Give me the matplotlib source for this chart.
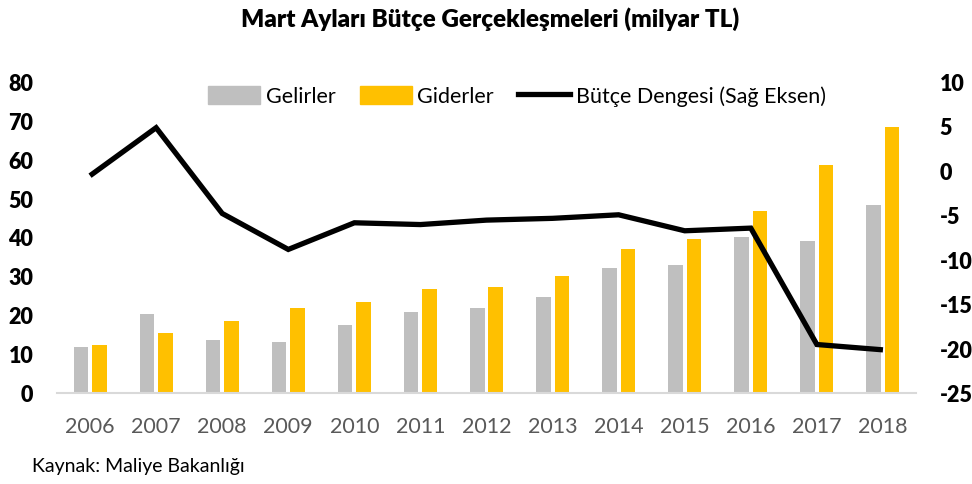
import numpy as np
import matplotlib.pyplot as plt
from matplotlib.patches import Patch
from matplotlib.lines import Line2D

# veriler (milyar TL)
yillar = ['2006', '2007', '2008', '2009', '2010', '2011', '2012',
          '2013', '2014', '2015', '2016', '2017', '2018']
gelirler = [11.8, 20.3, 13.6, 12.9, 17.4, 20.6, 21.7, 24.6, 31.9, 32.8, 40.1, 38.9, 48.2]
giderler = [12.3, 15.4, 18.5, 21.7, 23.2, 26.7, 27.2, 30.0, 37.0, 39.6, 46.7, 58.5, 68.4]
denge = [-0.6, 4.8, -4.85, -8.9, -5.9, -6.1, -5.6, -5.4, -5.0, -6.8, -6.5, -19.6, -20.2]

plt.rcParams['font.family'] = ['Lato', 'DejaVu Sans']
plt.rcParams['axes.unicode_minus'] = False

fig = plt.figure(figsize=(9.72, 4.85), dpi=100)
ax = fig.add_axes([57/972, (485-393.5)/485, (916-57)/972, (393.5-82.5)/485])
x = np.arange(len(yillar))

ax.bar(x - 0.14, gelirler, width=0.22, color='#BFBFBF', zorder=2)
ax.bar(x + 0.14, giderler, width=0.22, color='#FFC000', zorder=2)
ax.set_xlim(-0.5, 12.5)
ax.set_ylim(0, 80)
ax.set_yticks(range(0, 81, 10))
ax.set_xticks(x)
ax.set_xticklabels(yillar, fontsize=15.5, color='#595959')
for s in ['top', 'right', 'left']:
    ax.spines[s].set_visible(False)
ax.spines['bottom'].set_color('#D9D9D9')
ax.spines['bottom'].set_linewidth(1.5)
ax.tick_params(axis='x', length=0, pad=17)
ax.tick_params(axis='y', length=0, pad=17, labelsize=15.5)
for t in ax.get_yticklabels():
    t.set_fontweight('heavy')

ax2 = ax.twinx()
ax2.plot(x, denge, color='black', lw=3.8, solid_capstyle='butt', solid_joinstyle='miter')
ax2.set_ylim(-25, 10)
ax2.set_yticks(range(-25, 11, 5))
for s in ['top', 'right', 'left', 'bottom']:
    ax2.spines[s].set_visible(False)
ax2.tick_params(axis='y', length=0, pad=17, labelsize=15.5)
for t in ax2.get_yticklabels():
    t.set_fontweight('heavy')

fig.text(490/972, 1-19/485, 'Mart Ayları Bütçe Gerçekleşmeleri (milyar TL)',
         ha='center', va='center', fontsize=17.5, fontweight='heavy')

handles = [Patch(color='#BFBFBF'), Patch(color='#FFC000'),
           Line2D([0], [0], color='black', lw=3.8)]
fig.legend(handles, ['Gelirler', 'Giderler', 'Bütçe Dengesi (Sağ Eksen)'],
           loc='center', bbox_to_anchor=(517/972, 1-97/485), ncol=3, frameon=False,
           fontsize=15.5, handlelength=2.4, handleheight=0.9, handletextpad=0.25,
           columnspacing=1.15)

fig.text(32/972, 1-467/485, 'Kaynak: Maliye Bakanlığı', ha='left', va='center', fontsize=14)

fig.savefig('out.png', dpi=100)
